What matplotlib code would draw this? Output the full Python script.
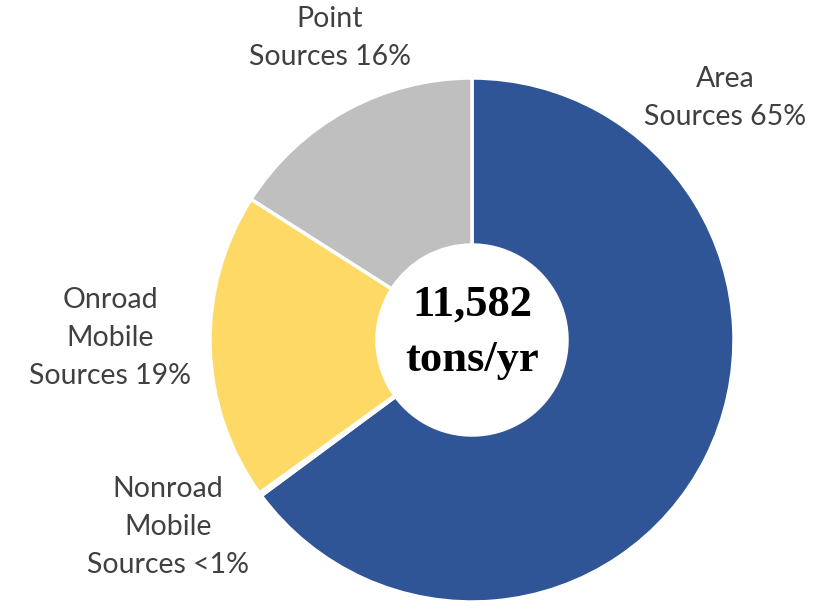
import matplotlib.pyplot as plt

categories = ["Area\nSources 65%", "Nonroad\nMobile\nSources <1%", "Onroad\nMobile\nSources 19%", "Point\nSources 16%"]
values = [65, 0.2, 19, 16]
colors = ["#2F5597", "#F8CBAD", "#FFD966", "#BFBFBF"]
total_label = "11,582\ntons/yr"

W, H = 832, 613
fig = plt.figure(figsize=(W / 100, H / 100), dpi=100)

# donut centre and radius in pixels
cx, cy, r = 472, 340, 262
ax = fig.add_axes([(cx - r) / W, (H - cy - r) / H, 2 * r / W, 2 * r / H])
ax.pie(values, colors=colors, startangle=90, counterclock=False, radius=1,
       wedgeprops=dict(width=1 - 95 / 262, edgecolor="white", linewidth=2.5))
ax.set_xlim(-1, 1)
ax.set_ylim(-1, 1)
ax.set_aspect("equal")
ax.axis("off")

ax.text(0, 0.03, total_label, ha="center", va="center", family="Liberation Serif",
        fontweight="bold", fontsize=32, linespacing=1.5)

# label anchor points (pixel centres of each text block)
label_pos = [(725, 98), (168, 527), (110, 338), (330, 38)]
for text, (px, py) in zip(categories, label_pos):
    fig.text(px / W, 1 - py / H, text, ha="center", va="center", family="Lato",
             fontsize=20.5, color="#404040", linespacing=1.55)

fig.savefig("out.png", dpi=100)
